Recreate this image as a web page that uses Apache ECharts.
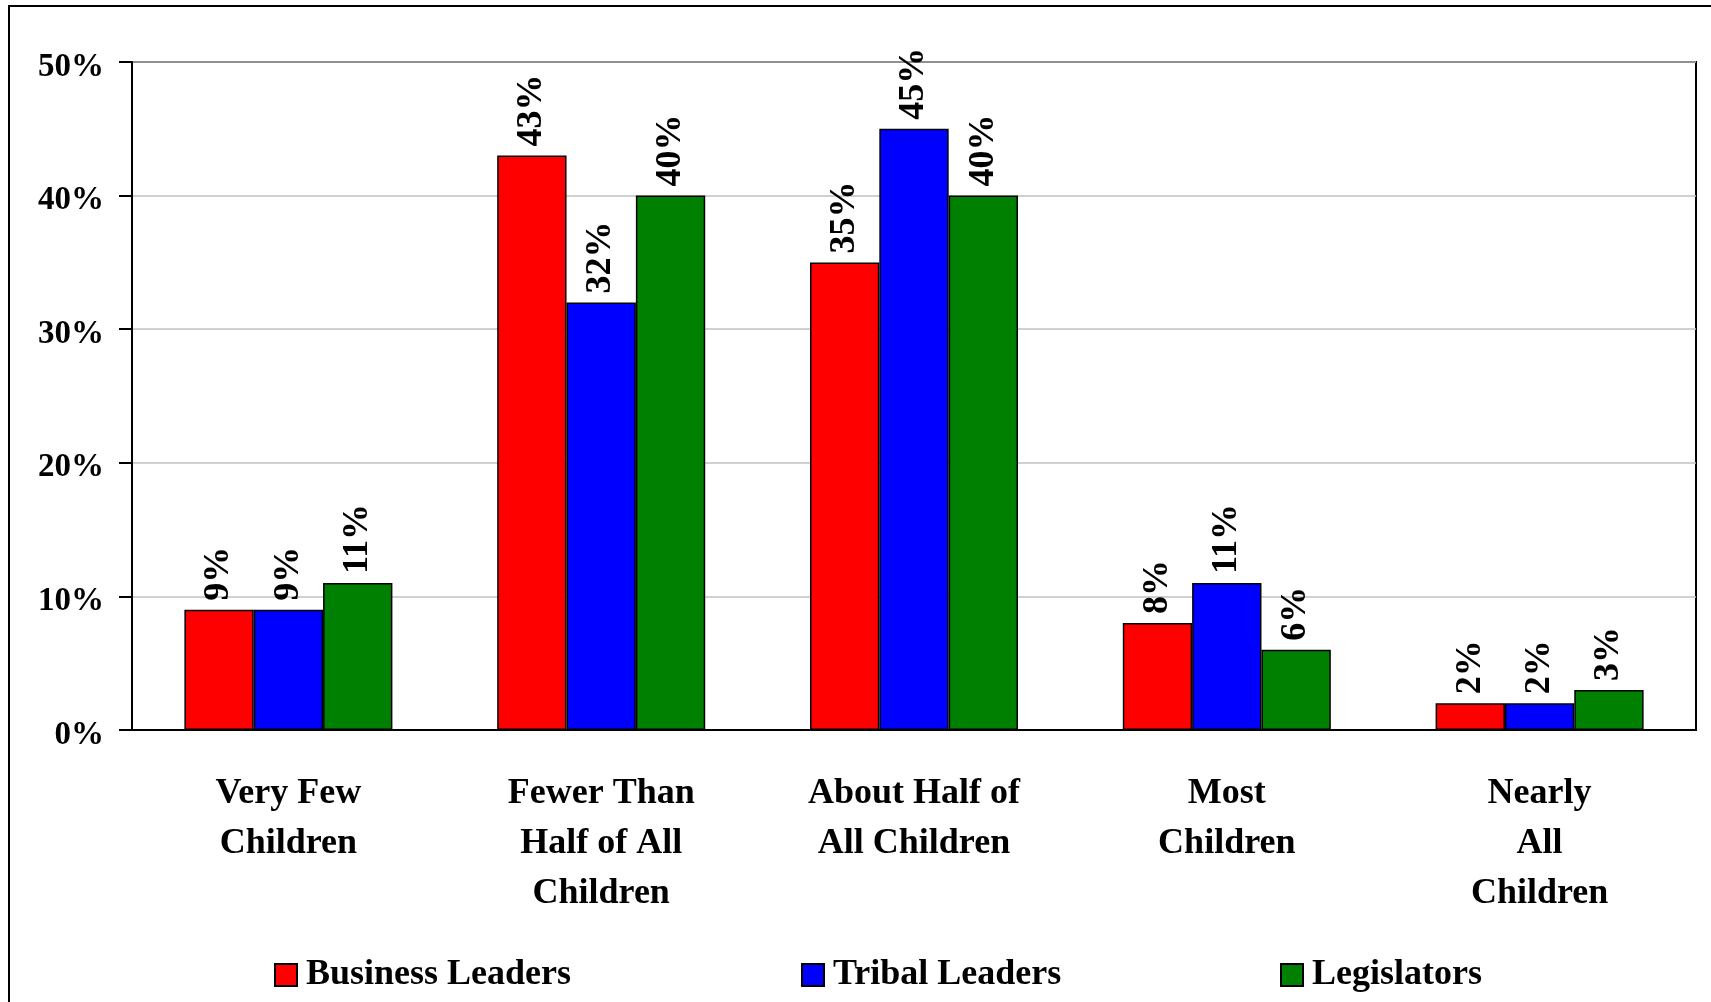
<!DOCTYPE html>
<html>
<head>
<meta charset="utf-8">
<title>Children chart</title>
<script src="https://cdn.jsdelivr.net/npm/echarts@6/dist/echarts.min.js"></script>
<style>
html, body { margin: 0; padding: 0; background: #fff; }
#chart { width: 1711px; height: 1002px; }
</style>
</head>
<body>
<div id="chart"></div>
<script>
var categories = ['Very Few\nChildren', 'Fewer Than\nHalf of All\nChildren', 'About Half of\nAll Children', 'Most\nChildren', 'Nearly\nAll\nChildren'];
var seriesNames = ['Business Leaders', 'Tribal Leaders', 'Legislators'];
var businessLeaders = [9, 43, 35, 8, 2];
var tribalLeaders = [9, 32, 45, 11, 2];
var legislators = [11, 40, 40, 6, 3];
var seriesColors = ['#ff0000', '#0000ff', '#008000'];
var legendLefts = [269, 796, 1275];

var font = "'Liberation Serif', 'Times New Roman', serif";

function makeSeries(name, data, color) {
	return {
		name: name,
		type: 'bar',
		data: data,
		barGap: '0%',
		barCategoryGap: '33.5%',
		itemStyle: { color: color, borderColor: '#000', borderWidth: 1.5 },
		label: {
			show: true,
			position: 'top',
			rotate: 90,
			align: 'left',
			verticalAlign: 'middle',
			distance: 9,
			formatter: '{c}%',
			color: '#000',
			fontFamily: font,
			fontWeight: 'bold',
			fontSize: 36
		}
	};
}

var allData = [businessLeaders, tribalLeaders, legislators];
var series = [];
var legends = [];
for (var i = 0; i < seriesNames.length; i++) {
	series.push(makeSeries(seriesNames[i], allData[i], seriesColors[i]));
	legends.push({
		data: [{ name: seriesNames[i], icon: 'rect' }],
		left: legendLefts[i],
		top: 952,
		itemWidth: 22,
		itemHeight: 22,
		textStyle: { fontFamily: font, fontWeight: 'bold', fontSize: 36, color: '#000', padding: [0, 0, 0, 4] }
	});
}

var chart = echarts.init(document.getElementById('chart'));
var option = {
	animation: false,
	backgroundColor: '#fff',
	grid: { left: 132, right: 15, top: 62, bottom: 272, show: true, borderColor: '#000', borderWidth: 2 },
	legend: legends,
	xAxis: {
		type: 'category',
		data: categories,
		axisLine: { lineStyle: { color: '#000', width: 2 } },
		axisTick: { length: 13, lineStyle: { color: '#000', width: 2 } },
		axisLabel: { margin: 39, interval: 0, color: '#000', fontFamily: font, fontWeight: 'bold', fontSize: 36, lineHeight: 50 }
	},
	yAxis: {
		type: 'value',
		min: 0,
		max: 50,
		interval: 10,
		axisLine: { show: true, lineStyle: { color: '#000', width: 2 } },
		axisTick: { show: true, length: 13, lineStyle: { color: '#000', width: 2 } },
		axisLabel: {
			margin: 28,
			formatter: '{v|{value}%}',
			rich: { v: { color: '#000', fontFamily: font, fontWeight: 'bold', fontSize: 33, padding: [10, 0, 0, 0] } }
		},
		splitLine: { lineStyle: { color: '#c0c0c0', width: 1.5 } }
	},
	graphic: [{
		type: 'rect',
		shape: { x: 9, y: 6, width: 1720, height: 1100 },
		style: { fill: 'none', stroke: '#000', lineWidth: 2 },
		silent: true
	}],
	series: series
};
chart.setOption(option);
</script>
</body>
</html>
